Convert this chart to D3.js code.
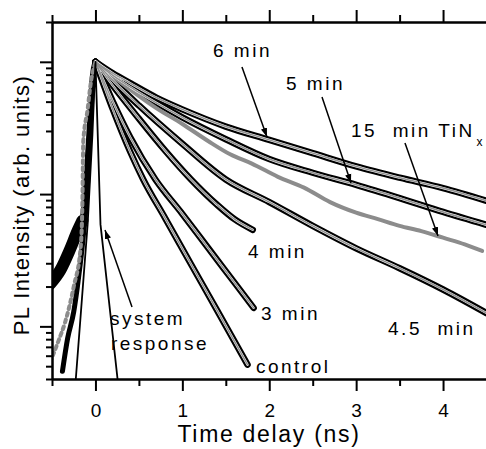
<!DOCTYPE html>
<meta charset="utf-8">
<style>

body {
  margin: 0;
  background: #fff;
}

text {
  font-family: "Liberation Sans", Arial, sans-serif;
  fill: #000;
}

.axis path,
.axis line {
  stroke: #000;
  stroke-width: 2px;
}

.note {
  font-size: 19px;
  letter-spacing: 2.5px;
}

</style>
<svg></svg>
<script src="https://cdnjs.cloudflare.com/ajax/libs/d3/7.8.5/d3.min.js"></script>
<script>

var width = 486,
    height = 449;

// decays, [time (ns), normalised PL]
var min6 = [[0, 1], [0.2, 0.82], [0.4, 0.69], [0.7, 0.537], [1.0, 0.437], [1.5, 0.324], [2.0, 0.257],
  [2.5, 0.204], [3.0, 0.162], [3.5, 0.133], [4.0, 0.111], [4.5, 0.089]];
var min5 = [[0, 1], [0.2, 0.79], [0.4, 0.646], [0.7, 0.49], [1.0, 0.38], [1.5, 0.26], [2.0, 0.184],
  [2.5, 0.145], [3.0, 0.1175], [3.5, 0.0933], [4.0, 0.0733], [4.5, 0.0585]];
var min45 = [[0, 1], [0.2, 0.724], [0.5, 0.468], [1.0, 0.24], [1.5, 0.129], [2.0, 0.087], [2.5, 0.0575],
  [3.0, 0.0389], [3.5, 0.0275], [4.0, 0.019], [4.5, 0.0126]];
var min4 = [[0, 1], [0.2, 0.661], [0.5, 0.372], [0.8, 0.214], [1.1, 0.129], [1.4, 0.083], [1.6, 0.0646], [1.81, 0.0537]];
var min3 = [[0, 1], [0.2, 0.501], [0.4, 0.269], [0.69, 0.129], [1.0, 0.0708], [1.3, 0.0389], [1.6, 0.0214], [1.82, 0.0138]];
var control = [[0, 1], [0.2, 0.437], [0.4, 0.209], [0.55, 0.129], [0.8, 0.0661], [1.1, 0.0295], [1.4, 0.0132], [1.75, 0.00513]];
var tin15 = [[0, 1], [0.2, 0.776], [0.4, 0.617], [0.7, 0.447], [1.0, 0.339], [1.3, 0.251], [1.55, 0.2],
  [1.8, 0.17], [2.1, 0.135], [2.4, 0.112], [2.7, 0.087], [3.0, 0.0724], [3.25, 0.0646], [3.5, 0.0575],
  [3.75, 0.0525], [4.0, 0.0468], [4.25, 0.0417], [4.45, 0.0372]];

// rising edges and instrument response
var riseWide = [[-0.52, 0.021], [-0.4, 0.0269], [-0.3, 0.0372], [-0.2, 0.0537], [-0.15, 0.0631],
  [-0.1, 0.138], [-0.07, 0.288], [-0.03, 0.776], [0, 1]];
var riseGray = [[-0.52, 0.0054], [-0.42, 0.00794], [-0.35, 0.0107], [-0.25, 0.02], [-0.17, 0.0398],
  [-0.15, 0.087], [-0.14, 0.251], [-0.09, 0.437], [-0.06, 0.646], [0, 1]];
var riseNarrow = [[-0.38, 0.00457], [-0.32, 0.00813], [-0.25, 0.0129], [-0.2, 0.0219], [-0.14, 0.0479],
  [-0.09, 0.123], [-0.06, 0.389], [0, 1]];
var sysResp = [[-0.23, 0.0037], [-0.09, 0.059], [-0.035, 0.28], [0, 1], [0.025, 0.3], [0.058, 0.059], [0.26, 0.0037]];

var xMajor = [0, 1, 2, 3, 4],
    xMinor = [-0.5, 0.5, 1.5, 2.5, 3.5, 4.5],
    yMajor = [0.01, 0.1, 1],
    yMinor = [0.004, 0.005, 0.006, 0.007, 0.008, 0.009,
      0.02, 0.03, 0.04, 0.05, 0.06, 0.07, 0.08, 0.09,
      0.2, 0.3, 0.4, 0.5, 0.6, 0.7, 0.8, 0.9, 2];

// labels and arrows, in data units
var labels = [
  {t: 1.353, v: 1.086, text: "6 min"},
  {t: 2.193, v: 0.611, text: "5 min"},
  {t: 2.941, v: 0.270, text: "15\u00a0 min TiN", sub: "x"},
  {t: 1.755, v: 0.0329, text: "4 min"},
  {t: 1.905, v: 0.01117, text: "3 min"},
  {t: 3.367, v: 0.0086, text: "4.5\u00a0 min"},
  {t: 1.847, v: 0.00444, text: "control"},
  {t: 0.167, v: 0.01024, text: "system"},
  {t: 0.178, v: 0.00662, text: "response"}
];
var arrows = [
  [[1.686, 0.912], [1.974, 0.270]],
  [[2.607, 0.541], [2.941, 0.1212]],
  [[3.562, 0.243], [3.942, 0.0482]],
  [[0.4206, 0.014], [0.110, 0.0535]]
];

var x = d3.scaleLinear()
    .domain([-0.5, 4.5])
    .range([52, 486.5]);

var y = d3.scaleLog()
    .domain([0.004, 2])
    .range([379, 22]);

var svg = d3.select("svg")
    .attr("width", width)
    .attr("height", height);

svg.append("defs").append("clipPath")
    .attr("id", "clip")
  .append("rect")
    .attr("x", 52)
    .attr("y", 22)
    .attr("width", 436)
    .attr("height", 357);

svg.select("defs").append("marker")
    .attr("id", "head")
    .attr("viewBox", "0 0 10 10")
    .attr("refX", 10)
    .attr("refY", 5)
    .attr("markerWidth", 9)
    .attr("markerHeight", 9)
    .attr("markerUnits", "userSpaceOnUse")
    .attr("orient", "auto")
  .append("path")
    .attr("d", "M0,1.5L10,5L0,8.5z")
    .attr("fill", "#000");

var line = d3.line()
    .x(function(d) { return x(d[0]); })
    .y(function(d) { return y(d[1]); })
    .curve(d3.curveMonotoneX);

var plot = svg.append("g")
    .attr("clip-path", "url(#clip)");

var decays = [min6, min5, min45, min4, min3, control];

function band(g, color, w) {
  g.attr("fill", "none")
      .attr("stroke", color)
      .attr("stroke-width", w)
      .attr("stroke-linejoin", "round")
      .attr("stroke-linecap", "round");
}

// measured points, drawn as a dark band
plot.selectAll(".decay")
    .data(decays)
  .enter().append("path")
    .attr("class", "decay")
    .call(band, "#000", 6.5)
    .attr("d", line);

// the wide early rise is a broad cloud low down, a thin column near the peak
plot.append("path")
    .call(band, "#000", 12)
    .attr("d", line(riseWide.filter(function(d) { return d[0] <= -0.15; })));

plot.append("path")
    .call(band, "#000", 6)
    .attr("d", line(riseWide.filter(function(d) { return d[0] >= -0.2; })));

plot.append("path")
    .call(band, "#000", 5)
    .attr("d", line(riseNarrow));

plot.append("path")
    .call(band, "#8c8c8c", 4)
    .attr("stroke-dasharray", "3,4")
    .attr("d", line(riseGray));

plot.append("path")
    .call(band, "#8c8c8c", 4)
    .attr("d", line(tin15));

// fits
plot.selectAll(".halo")
    .data(decays)
  .enter().append("path")
    .attr("class", "halo")
    .call(band, "#fff", 2.3)
    .attr("d", line);

plot.selectAll(".fit")
    .data(decays)
  .enter().append("path")
    .attr("class", "fit")
    .call(band, "#8f8f8f", 1.5)
    .attr("d", line);

plot.append("path")
    .call(band, "#000", 1.8)
    .attr("d", d3.line()
      .x(function(d) { return x(d[0]); })
      .y(function(d) { return y(d[1]); })(sysResp));

// axes
svg.append("g")
    .attr("class", "axis")
    .attr("transform", "translate(0,379)")
    .call(d3.axisBottom(x).tickValues(xMajor).tickSize(12).tickPadding(13)
      .tickFormat(d3.format("d")).tickSizeOuter(0));

svg.append("g")
    .attr("class", "axis")
    .attr("transform", "translate(0,379)")
    .call(d3.axisBottom(x).tickValues(xMinor).tickSize(7).tickFormat("").tickSizeOuter(0));

svg.append("g")
    .attr("class", "axis")
    .attr("transform", "translate(0,22)")
    .call(d3.axisTop(x).tickValues(xMajor).tickSize(12).tickFormat("").tickSizeOuter(0));

svg.append("g")
    .attr("class", "axis")
    .attr("transform", "translate(0,22)")
    .call(d3.axisTop(x).tickValues(xMinor).tickSize(7).tickFormat("").tickSizeOuter(0));

svg.append("g")
    .attr("class", "axis")
    .attr("transform", "translate(52,0)")
    .call(d3.axisLeft(y).tickValues(yMajor).tickSize(12).tickFormat("").tickSizeOuter(0));

svg.append("g")
    .attr("class", "axis")
    .attr("transform", "translate(52,0)")
    .call(d3.axisLeft(y).tickValues(yMinor).tickSize(6).tickFormat("").tickSizeOuter(0));

svg.selectAll(".axis")
    .attr("font-family", "Liberation Sans, Arial, sans-serif")
    .attr("font-size", 19);

svg.append("text")
    .attr("x", 269)
    .attr("y", 442)
    .attr("text-anchor", "middle")
    .style("font-size", "23px")
    .style("letter-spacing", "1.7px")
    .text("Time delay (ns)");

svg.append("text")
    .attr("transform", "translate(29,205) rotate(-90)")
    .attr("text-anchor", "middle")
    .style("font-size", "22px")
    .style("letter-spacing", "1.4px")
    .text("PL Intensity (arb. units)");

// annotations
var note = svg.selectAll(".note")
    .data(labels)
  .enter().append("text")
    .attr("class", "note")
    .attr("x", function(d) { return x(d.t); })
    .attr("y", function(d) { return y(d.v); })
    .text(function(d) { return d.text; });

note.filter(function(d) { return d.sub; })
  .append("tspan")
    .attr("dx", 2)
    .attr("dy", 9)
    .style("font-size", "12px")
    .style("letter-spacing", "0px")
    .text(function(d) { return d.sub; });

svg.selectAll(".arrow")
    .data(arrows)
  .enter().append("line")
    .attr("class", "arrow")
    .attr("x1", function(d) { return x(d[0][0]); })
    .attr("y1", function(d) { return y(d[0][1]); })
    .attr("x2", function(d) { return x(d[1][0]); })
    .attr("y2", function(d) { return y(d[1][1]); })
    .attr("stroke", "#000")
    .attr("stroke-width", 1.5)
    .attr("marker-end", "url(#head)");

</script>
